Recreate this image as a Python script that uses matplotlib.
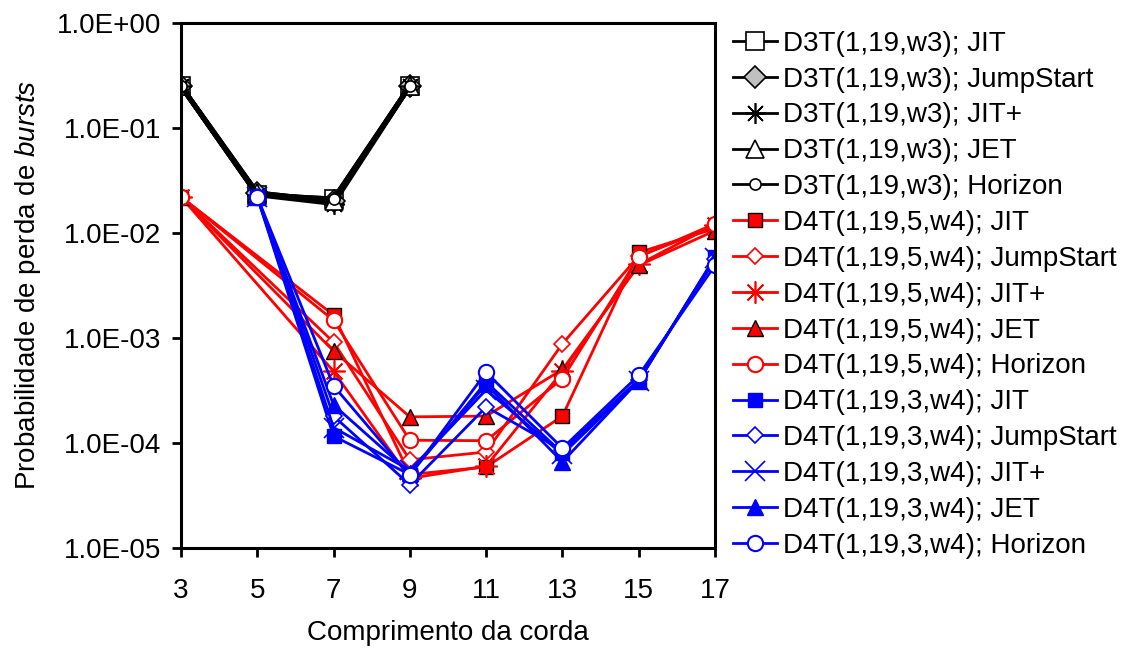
import numpy as np
import matplotlib
matplotlib.use("Agg")
import matplotlib.pyplot as plt
from matplotlib.ticker import FixedLocator, FuncFormatter, NullLocator

plt.rcParams["font.family"] = ["Liberation Sans", "DejaVu Sans"]
plt.rcParams["mathtext.fontset"] = "custom"
plt.rcParams["mathtext.rm"] = "Liberation Sans"
plt.rcParams["mathtext.it"] = "Liberation Sans:italic"

# chord lengths per family
x_d3t = [3, 5, 7, 9]
x_d4t5 = [3, 7, 9, 11, 13, 15, 17]
x_d4t3 = [5, 7, 9, 11, 13, 15, 17]

# D3T(1,19,w3)
d3t_jit = [0.25, 0.023, 0.021, 0.25]
d3t_jumpstart = [0.25, 0.024, 0.020, 0.25]
d3t_jitp = [0.25, 0.023, 0.019, 0.25]
d3t_jet = [0.25, 0.024, 0.020, 0.25]
d3t_horizon = [0.25, 0.023, 0.021, 0.25]

# D4T(1,19,5,w4)
d4t5_jit = [0.022, 1.65e-3, 5.0e-5, 5.9e-5, 1.8e-4, 6.5e-3, 1.1e-2]
d4t5_jumpstart = [0.022, 9.1e-4, 6.9e-5, 8.2e-5, 8.8e-4, 6.0e-3, 1.15e-2]
d4t5_jitp = [0.022, 4.8e-4, 4.6e-5, 6.0e-5, 4.8e-4, 5.0e-3, 1.2e-2]
d4t5_jet = [0.022, 7.5e-4, 1.77e-4, 1.8e-4, 5.0e-4, 4.9e-3, 1.05e-2]
d4t5_horizon = [0.022, 1.47e-3, 1.06e-4, 1.05e-4, 4.1e-4, 5.9e-3, 1.22e-2]

# D4T(1,19,3,w4)
d4t3_jit = [0.022, 1.16e-4, 5.0e-5, 3.8e-4, 8.0e-5, 3.9e-4, 5.9e-3]
d4t3_jumpstart = [0.022, 1.8e-4, 4.0e-5, 2.2e-4, 8.5e-5, 4.0e-4, 5.6e-3]
d4t3_jitp = [0.022, 1.4e-4, 5.5e-5, 3.2e-4, 7.8e-5, 3.9e-4, 5.7e-3]
d4t3_jet = [0.022, 2.3e-4, 5.2e-5, 3.6e-4, 6.6e-5, 3.9e-4, 5.8e-3]
d4t3_horizon = [0.022, 3.5e-4, 4.9e-5, 4.7e-4, 8.9e-5, 4.4e-4, 4.9e-3]

fig = plt.figure(figsize=(11.36, 6.5), dpi=100)
ax = fig.add_axes([0.1593, 0.157, 0.4701, 0.808])

asterisk = (8, 2, 0)

# black series
ax.plot(x_d3t, d3t_jit, color="black", lw=3.5, marker="s", ms=13, mfc="white", mec="black", mew=1.2, label="D3T(1,19,w3); JIT")
ax.plot(x_d3t, d3t_jumpstart, color="black", lw=3.5, marker="D", ms=11, mfc="#c0c0c0", mec="black", mew=1.2, label="D3T(1,19,w3); JumpStart")
ax.plot(x_d3t, d3t_jitp, color="black", lw=3.5, marker=asterisk, ms=15, mec="black", mew=1.2, label="D3T(1,19,w3); JIT+")
ax.plot(x_d3t, d3t_jet, color="black", lw=3.5, marker="^", ms=13, mfc="white", mec="black", mew=1.2, label="D3T(1,19,w3); JET")
ax.plot(x_d3t, d3t_horizon, color="black", lw=3.5, marker="o", ms=8, mfc="white", mec="black", mew=1.2, label="D3T(1,19,w3); Horizon")

# red series
ax.plot(x_d4t5, d4t5_jit, color="red", lw=2, marker="s", ms=10, mfc="red", mec="black", mew=1, label="D4T(1,19,5,w4); JIT")
ax.plot(x_d4t5, d4t5_jumpstart, color="red", lw=2, marker="D", ms=8, mfc="white", mec="red", mew=1.2, label="D4T(1,19,5,w4); JumpStart")
ax.plot(x_d4t5, d4t5_jitp, color="red", lw=2, marker=asterisk, ms=16, mec="red", mew=1.2, label="D4T(1,19,5,w4); JIT+")
ax.plot(x_d4t5, d4t5_jet, color="red", lw=2, marker="^", ms=11, mfc="red", mec="black", mew=1, label="D4T(1,19,5,w4); JET")
ax.plot(x_d4t5, d4t5_horizon, color="red", lw=2, marker="o", ms=11, mfc="white", mec="red", mew=1.5, label="D4T(1,19,5,w4); Horizon")

# blue series
ax.plot(x_d4t3, d4t3_jit, color="blue", lw=2, marker="s", ms=10, mfc="blue", mec="blue", mew=1, label="D4T(1,19,3,w4); JIT")
ax.plot(x_d4t3, d4t3_jumpstart, color="blue", lw=2, marker="D", ms=8, mfc="white", mec="blue", mew=1.2, label="D4T(1,19,3,w4); JumpStart")
ax.plot(x_d4t3, d4t3_jitp, color="blue", lw=2, marker="x", ms=14, mec="blue", mew=1.2, label="D4T(1,19,3,w4); JIT+")
ax.plot(x_d4t3, d4t3_jet, color="blue", lw=2, marker="^", ms=11, mfc="blue", mec="blue", mew=1, label="D4T(1,19,3,w4); JET")
ax.plot(x_d4t3, d4t3_horizon, color="blue", lw=2, marker="o", ms=11, mfc="white", mec="blue", mew=1.5, label="D4T(1,19,3,w4); Horizon")

ax.set_yscale("log")
ax.set_ylim(1e-5, 1.0)
ax.set_xlim(3, 17)
ax.xaxis.set_major_locator(FixedLocator([3, 5, 7, 9, 11, 13, 15, 17]))
ax.yaxis.set_major_locator(FixedLocator([1e-5, 1e-4, 1e-3, 1e-2, 1e-1, 1.0]))
ax.yaxis.set_minor_locator(NullLocator())
ax.yaxis.set_major_formatter(FuncFormatter(lambda v, p: "1.0E%+03d" % round(np.log10(v))))

for s in ax.spines.values():
    s.set_linewidth(2.2)
ax.tick_params(axis="both", direction="out", length=6.5, width=2, labelsize=20)
ax.tick_params(axis="x", pad=15)
ax.tick_params(axis="y", pad=8)

ax.set_xlabel("Comprimento da corda", fontsize=20, labelpad=12)
ax.set_ylabel("Probabilidade de perda de $\\it{bursts}$", fontsize=20, labelpad=10)

leg = ax.legend(loc="upper left", bbox_to_anchor=(0.997, 1.022), frameon=False, fontsize=20,
                handlelength=1.6, handletextpad=0.2, labelspacing=0.355, borderaxespad=0.3)
for ln in leg.get_lines():
    ln.set_linewidth(2)

fig.savefig("out.png", dpi=100)
